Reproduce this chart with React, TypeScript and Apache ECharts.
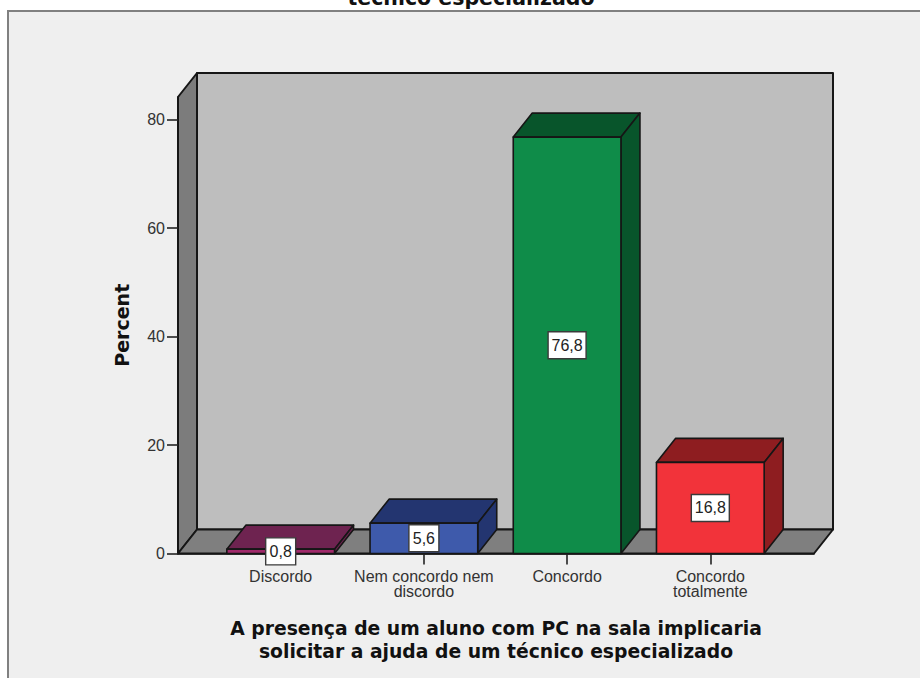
import React, { useEffect, useRef } from "react";
import * as echarts from "echarts";

const categories = ["Discordo", "Nem concordo nem\ndiscordo", "Concordo", "Concordo\ntotalmente"];
const percentValues = [0.8, 5.6, 76.8, 16.8];
const frontColors = ["#a0296a", "#3e5aab", "#0f8c49", "#f2333a"];
const darkColors = ["#6e2350", "#233570", "#08552b", "#8e1d20"];
const yTicks = [0, 20, 40, 60, 80];
const xTicks = [0, 1, 2, 3];
const visibleTitle = "técnico especializado";
const xTitle = "A presença de um aluno com PC na sala implicaria\nsolicitar a ajuda de um técnico especializado";
const yTitle = "Percent";

const X_MIN = -0.717;
const X_MAX = 3.724;
const Y_MAX = 84.2;
const DEPTH_X = 19;
const DEPTH_Y = -24;
const BAR_HALF = 0.376;
const EDGE = "#161616";

const poly = (points: number[][], fill: string, width = 1.6) => ({
  type: "polygon",
  shape: { points },
  style: { fill, stroke: EDGE, lineWidth: width, lineJoin: "round" },
});

const shift = (p: number[]) => [p[0] + DEPTH_X, p[1] + DEPTH_Y];

function renderWalls(_: any, api: any) {
  const bl = api.coord([X_MIN, 0]);
  const br = api.coord([X_MAX, 0]);
  const tl = api.coord([X_MIN, Y_MAX]);
  const bbl = shift(bl);
  const bbr = shift(br);
  const btl = shift(tl);
  const btr = [bbr[0], btl[1]];
  return {
    type: "group",
    children: [
      poly([btl, btr, bbr, bbl], "#bebebe", 2),
      poly([tl, btl, bbl, bl], "#7c7c7c", 2),
      poly([bl, bbl, bbr, br], "#7f7f7f", 2),
    ],
  };
}

function renderBar(_: any, api: any) {
  const i = api.value(0);
  const v = api.value(1);
  const fl = api.coord([i - BAR_HALF, 0]);
  const fr = api.coord([i + BAR_HALF, 0]);
  const tl = api.coord([i - BAR_HALF, v]);
  const tr = api.coord([i + BAR_HALF, v]);
  const cx = (fl[0] + fr[0]) / 2;
  const cy = (fl[1] + tl[1]) / 2;
  const text = v.toFixed(1).replace(".", ",");
  const boxW = text.length > 3 ? 38 : 30;
  const boxH = 27;
  return {
    type: "group",
    children: [
      poly([tl, tr, shift(tr), shift(tl)], darkColors[i]),
      poly([tr, fr, shift(fr), shift(tr)], darkColors[i]),
      poly([tl, tr, fr, fl], frontColors[i]),
      {
        type: "rect",
        z2: 5,
        shape: { x: cx - boxW / 2, y: cy - boxH / 2, width: boxW, height: boxH },
        style: { fill: "#ffffff", stroke: "#3a3a3a", lineWidth: 1.4 },
      },
      {
        type: "text",
        z2: 6,
        x: cx,
        y: cy,
        style: {
          text,
          x: 0,
          y: 0,
          align: "center",
          verticalAlign: "middle",
          fill: "#222222",
          font: '16px "Liberation Sans"',
        },
      },
    ],
  };
}

export default function App() {
  const ref = useRef<HTMLDivElement>(null);
  useEffect(() => {
    const chart = echarts.init(ref.current!, undefined, { renderer: "svg" });
    chart.setOption({
      animation: false,
      backgroundColor: "#ffffff",
      graphic: [
        {
          type: "rect",
          z: -10,
          silent: true,
          shape: { x: 8, y: 11, width: 930, height: 690 },
          style: { fill: "#efefef", stroke: "#808080", lineWidth: 2 },
        },
      ],
      title: {
        text: visibleTitle,
        left: 466,
        textAlign: "center",
        top: -18,
        textStyle: { fontFamily: "DejaVu Sans", fontWeight: "bold", fontSize: 20.5, color: "#111111" },
      },
      grid: { left: 178, top: 97, width: 636, height: 456.5 },
      xAxis: {
        type: "value",
        min: X_MIN,
        max: X_MAX,
        splitLine: { show: false },
        axisLine: { show: true, onZero: false, lineStyle: { color: EDGE, width: 1.6 } },
        axisTick: { show: true, length: 11, customValues: xTicks, lineStyle: { color: "#222222", width: 1.6 } },
        axisLabel: {
          customValues: xTicks,
          margin: 15,
          lineHeight: 15,
          fontFamily: "Liberation Sans",
          fontSize: 16,
          color: "#333333",
          formatter: (v: number) => categories[Math.round(v)] ?? "",
        },
        name: xTitle,
        nameLocation: "middle",
        nameGap: 63,
        nameTextStyle: {
          fontFamily: "DejaVu Sans",
          fontWeight: "bold",
          fontSize: 18.75,
          lineHeight: 23,
          color: "#111111",
        },
      },
      yAxis: {
        type: "value",
        min: 0,
        max: Y_MAX,
        splitLine: { show: false },
        axisLine: { show: true, onZero: false, lineStyle: { color: EDGE, width: 1.6 } },
        axisTick: { show: true, length: 11, customValues: yTicks, lineStyle: { color: "#222222", width: 1.6 } },
        axisLabel: {
          customValues: yTicks,
          margin: 13,
          fontFamily: "Liberation Sans",
          fontSize: 16,
          color: "#333333",
        },
        name: yTitle,
        nameLocation: "middle",
        nameGap: 47,
        nameTextStyle: { fontFamily: "DejaVu Sans", fontWeight: "bold", fontSize: 19, color: "#111111" },
      },
      series: [
        {
          type: "custom",
          z: 0,
          clip: false,
          silent: true,
          coordinateSystem: "cartesian2d",
          renderItem: renderWalls,
          data: [[0, 0]],
          encode: { x: 0, y: 1 },
        },
        {
          type: "custom",
          z: 5,
          clip: false,
          silent: true,
          coordinateSystem: "cartesian2d",
          renderItem: renderBar,
          data: percentValues.map((v, i) => [i, v]),
          encode: { x: 0, y: 1 },
        },
      ],
    });
    return () => chart.dispose();
  }, []);
  return <div ref={ref} style={{ position: "fixed", left: 0, top: 0, width: 920, height: 678 }} />;
}
